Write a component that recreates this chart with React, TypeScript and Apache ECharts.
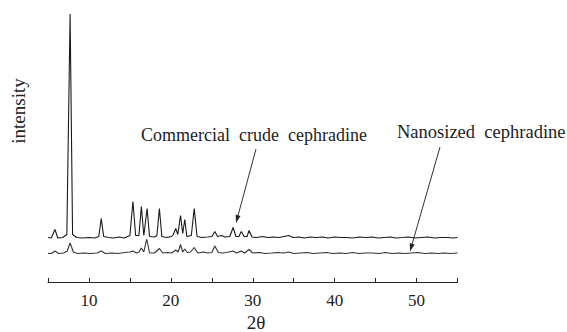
import React, { useEffect, useRef } from "react";
import * as echarts from "echarts";

// 2θ ticks shown as labels
const xTickLabels = [10, 20, 30, 40, 50];

// Commercial crude cephradine: [2θ, intensity above its baseline]
const commercialPattern: [number, number][] = [
  [5.0, 1], [5.4, 0.5], [5.85, 9], [6.2, 0.5], [6.8, 1], [7.3, 4], [7.7, 224.5], [8.0, 4], [8.5, 1],
  [9.2, 0.5], [10.0, 1], [10.7, 0.5], [11.2, 2], [11.5, 20], [11.8, 2], [12.4, 1], [13.0, 0.5],
  [13.7, 1.5], [14.3, 0.5], [15.0, 3], [15.37, 37], [15.7, 3], [16.1, 3], [16.4, 32], [16.7, 3],
  [17.1, 30], [17.4, 2], [18.0, 1.5], [18.3, 3], [18.6, 30], [18.9, 2], [19.5, 1], [20.1, 2],
  [20.3, 4], [20.6, 10], [20.85, 4], [21.18, 23], [21.45, 5], [21.7, 19], [21.95, 2], [22.5, 3],
  [22.85, 30], [23.2, 2], [23.8, 1], [24.5, 1.5], [25.0, 2], [25.37, 7], [25.7, 2], [26.2, 3],
  [26.6, 1.5], [27.2, 2], [27.6, 11], [27.95, 2], [28.3, 2], [28.6, 7], [28.95, 2], [29.3, 2],
  [29.55, 8], [29.9, 1.5], [30.5, 1], [31.2, 2], [31.8, 1], [32.5, 1.5], [33.2, 1], [33.8, 2],
  [34.4, 3], [34.9, 1], [35.6, 1.5], [36.3, 0.5], [37.0, 1.5], [37.8, 1], [38.5, 1.5], [39.2, 0.5],
  [40.0, 1.5], [40.8, 1], [41.5, 1], [42.2, 0.5], [43.0, 1.5], [43.8, 1], [44.6, 1.5], [45.3, 0.5],
  [46.0, 1], [46.8, 1.5], [47.5, 0.5], [48.3, 1], [49.0, 1.5], [49.8, 0.5], [50.6, 1], [51.4, 1.5],
  [52.2, 0.5], [53.0, 1], [53.8, 1], [54.5, 0.5], [55.0, 1],
];

// Nanosized cephradine: [2θ, intensity above its baseline]
const nanoPattern: [number, number][] = [
  [5.0, 0.5], [5.4, 0.5], [5.85, 3], [6.3, 0.5], [6.9, 1], [7.35, 3], [7.7, 11], [8.1, 2], [8.6, 0.5],
  [9.4, 1], [10.2, 0.5], [11.0, 1], [11.5, 3], [12.0, 0.5], [12.8, 1], [13.5, 0.5], [14.4, 1.5],
  [15.0, 2], [15.37, 3], [15.8, 1], [16.1, 2], [16.4, 6], [16.7, 2], [17.05, 15], [17.4, 1],
  [18.0, 1], [18.6, 5.5], [19.0, 1], [19.6, 1.5], [20.1, 1], [20.6, 4], [20.9, 2], [21.18, 9.5],
  [21.45, 2], [21.7, 5], [22.0, 1.5], [22.4, 2], [22.85, 6.5], [23.3, 1], [24.0, 2], [24.5, 1],
  [25.0, 1.5], [25.37, 8], [25.8, 1.5], [26.3, 1], [26.8, 1.5], [27.6, 3], [28.0, 1], [28.6, 3],
  [29.0, 1], [29.55, 4.5], [30.0, 1], [30.8, 1.5], [31.5, 0.5], [32.3, 1], [33.0, 1.5], [33.8, 1],
  [34.4, 2], [35.0, 0.5], [35.8, 1], [36.6, 1.5], [37.4, 0.5], [38.2, 1], [39.0, 1.5], [39.8, 0.5],
  [40.6, 1], [41.4, 0.5], [42.2, 1.5], [43.0, 0.5], [43.8, 1], [44.6, 1], [45.4, 0.5], [46.2, 1.5],
  [47.0, 0.5], [47.8, 1], [48.6, 0.5], [49.4, 1], [50.2, 1.5], [51.0, 0.5], [51.8, 1], [52.6, 0.5],
  [53.4, 1], [54.2, 0.5], [55.0, 1],
];

// vertical offsets of the stacked patterns
const commercialOffset = 43.5;
const nanoOffset = 28;

const FONT = "'Liberation Serif', 'Times New Roman', serif";

export default function App() {
  const ref = useRef<HTMLDivElement>(null);

  useEffect(() => {
    document.body.style.margin = "0";
    if (!ref.current) return;
    const chart = echarts.init(ref.current, null, { renderer: "svg" });

    const shift = (arr: [number, number][], off: number) => arr.map(([x, y]) => [x, y + off]);

    chart.setOption({
      animation: false,
      backgroundColor: "#ffffff",
      grid: { left: 48, right: 109.5, top: 14, bottom: 50 },
      xAxis: {
        type: "value",
        min: 5,
        max: 55,
        interval: 5,
        axisLine: { show: true, onZero: false, lineStyle: { color: "#222", width: 1 } },
        axisTick: { show: true, inside: true, length: 4, lineStyle: { color: "#222" } },
        axisLabel: {
          margin: 10,
          fontFamily: FONT,
          fontSize: 17,
          color: "#222",
          formatter: (v: number) => (xTickLabels.includes(v) ? String(v) : ""),
        },
        splitLine: { show: false },
      },
      yAxis: {
        type: "value",
        min: 0,
        max: 268,
        show: false,
      },
      series: [
        {
          type: "line",
          name: "Commercial crude cephradine",
          data: shift(commercialPattern, commercialOffset),
          showSymbol: false,
          lineStyle: { color: "#1a1a1a", width: 1.1 },
          z: 3,
        },
        {
          type: "line",
          name: "Nanosized cephradine",
          data: shift(nanoPattern, nanoOffset),
          showSymbol: false,
          lineStyle: { color: "#333", width: 1.1 },
          z: 2,
        },
      ],
      graphic: [
        {
          type: "text",
          x: 18,
          y: 111,
          rotation: Math.PI / 2,
          style: {
            text: "intensity",
            font: `19px ${FONT}`,
            fill: "#222",
            align: "center",
            verticalAlign: "middle",
          },
        },
        {
          type: "text",
          x: 256,
          y: 322,
          style: {
            text: "2θ",
            font: `19px ${FONT}`,
            fill: "#222",
            align: "center",
            verticalAlign: "middle",
          },
        },
        {
          type: "text",
          x: 141,
          y: 135,
          style: {
            text: "Commercial  crude  cephradine",
            font: `18px ${FONT}`,
            fill: "#222",
            align: "left",
            verticalAlign: "middle",
          },
        },
        {
          type: "text",
          x: 397,
          y: 132,
          style: {
            text: "Nanosized  cephradine",
            font: `18.5px ${FONT}`,
            fill: "#222",
            align: "left",
            verticalAlign: "middle",
          },
        },
        {
          type: "line",
          shape: { x1: 256, y1: 149, x2: 238.1, y2: 215.3 },
          style: { stroke: "#333", lineWidth: 1 },
        },
        {
          type: "polygon",
          shape: { points: [[236, 223], [240.5, 216.0], [235.7, 214.6]] },
          style: { fill: "#222" },
        },
        {
          type: "line",
          shape: { x1: 440, y1: 147, x2: 412.2, y2: 243.8 },
          style: { stroke: "#333", lineWidth: 1 },
        },
        {
          type: "polygon",
          shape: { points: [[410, 251.5], [414.6, 244.5], [409.8, 243.1]] },
          style: { fill: "#222" },
        },
      ],
    });

    return () => chart.dispose();
  }, []);

  return <div ref={ref} style={{ width: 567, height: 332 }} />;
}
